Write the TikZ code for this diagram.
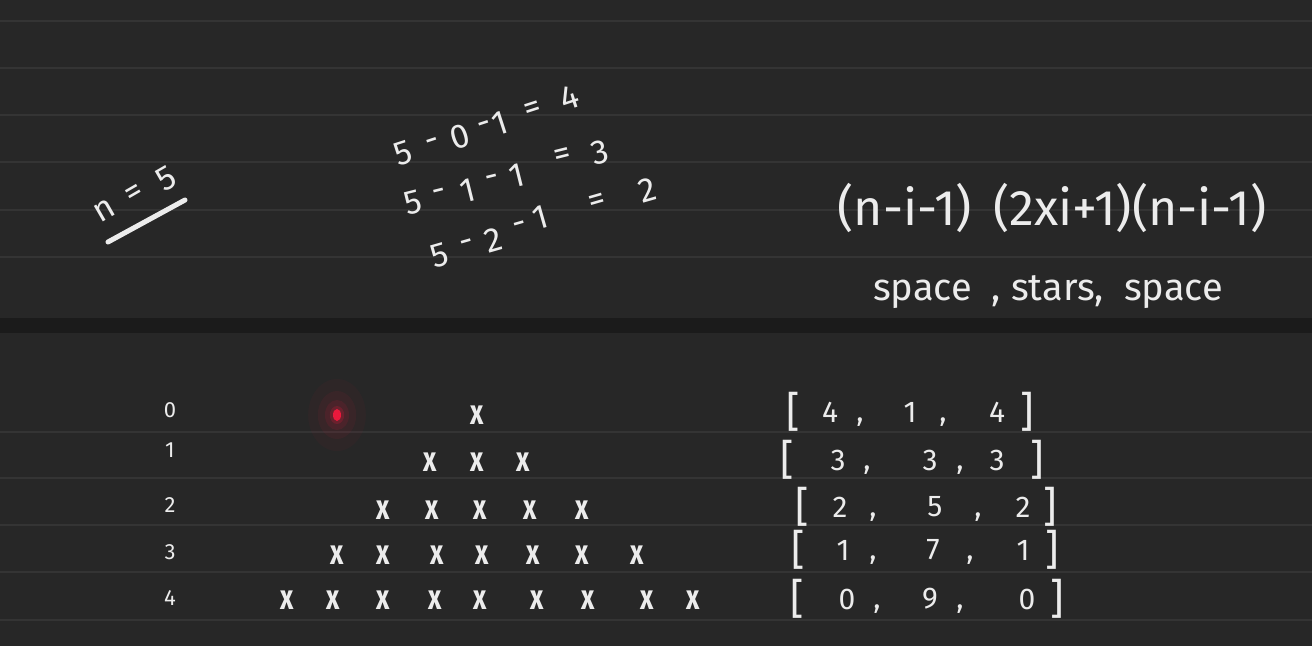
\documentclass[tikz,border=0pt]{standalone}
\usepackage{fontspec}
\usetikzlibrary{shapes.geometric}
\setmainfont{Fira Sans}
\definecolor{bg}{RGB}{39,39,39}
\definecolor{rulecol}{RGB}{52,52,52}
\definecolor{band}{RGB}{27,27,27}
\definecolor{chalk}{RGB}{236,236,236}
\definecolor{laser}{RGB}{235,25,60}
\begin{document}
\begin{tikzpicture}[x=1pt,y=-1pt,
  hand/.style={text=chalk, inner sep=0pt, anchor=center},
  eqn/.style={hand, font=\fontsize{34}{36}\selectfont},
  big/.style={hand, font=\fontsize{50}{54}\selectfont},
  lbl/.style={hand, font=\fontsize{22}{24}\selectfont},
  num/.style={hand, font=\fontsize{30}{32}\selectfont},
  brk/.style={hand, font=\fontsize{42}{44}\selectfont},
  xmark/.style={hand, font=\fontsize{26}{26}\selectfont\bfseries, yscale=1.35},
]
\useasboundingbox (0,0) rectangle (1312,646);
\fill[bg] (0,0) rectangle (1312,646);
\foreach \y in {21,68,115,162,210,257,432,478,525,572,620}
  \draw[rulecol, line width=2pt] (0,\y) -- (1312,\y);
\fill[band] (0,318) rectangle (1312,333);

% n = 5
\foreach \t/\x/\y [count=\k] in {n/105/211,=/135/194,5/166/179}
  \node[hand, font=\fontsize{34}{36}\selectfont, rotate=30] (n\k) at (\x,\y) {\t};
\coordinate (u1) at (108,242);
\coordinate (u2) at (185,200);
\draw[chalk, line width=5pt, line cap=round] (u1) -- (u2);

% equations, one glyph at a time along the slanted writing
\foreach \t/\x/\y [count=\k] in {5/403/153,-/433/145,0/460/137,-/485/128,1/500/123,=/533/110,4/570/98}
  \node[eqn, rotate=18] (ea\k) at (\x,\y) {\t};
\foreach \t/\x/\y [count=\k] in {5/413/203,-/440/195,1/468/191,-/493/181,1/517/176,=/563/157,3/600/152}
  \node[eqn, rotate=14] (eb\k) at (\x,\y) {\t};
\foreach \t/\x/\y [count=\k] in {5/440/255,-/467/246,2/493/240,-/520/228,1/540/218,=/597/203,2/647/190}
  \node[eqn, rotate=16] (ec\k) at (\x,\y) {\t};

% formula
\node[big] (f1) at (1052,208) {(n-i-1)\, (2xi+1)(n-i-1)};
\node[hand, font=\fontsize{38}{40}\selectfont] (f2) at (1048,292) {space\ \ ,\ stars,\ \ space};

% row labels
\foreach \i/\y in {0/410,1/450,2/505,3/552,4/598}
  \node[lbl] (r\i) at (170,\y) {\i};

% laser pointer
\foreach \r/\o in {36/0.04,24/0.06,15/0.1,9/0.2}
  \fill[laser, opacity=\o] (337,415) ellipse ({\r*0.8} and \r);
\node[fill=laser, ellipse, inner sep=0pt, minimum width=8pt, minimum height=12pt] (dot) at (337,415) {};

% stars
\foreach \x [count=\c] in {477} \node[xmark] (s0-\c) at (\x,415) {x};
\foreach \x [count=\c] in {430,477,523} \node[xmark] (s1-\c) at (\x,462) {x};
\foreach \x [count=\c] in {383,432,480,530,582} \node[xmark] (s2-\c) at (\x,510) {x};
\foreach \x [count=\c] in {337,383,437,482,533,582,637} \node[xmark] (s3-\c) at (\x,555) {x};
\foreach \x [count=\c] in {287,333,383,435,480,537,588,647,693} \node[xmark] (s4-\c) at (\x,600) {x};

% arrays
\foreach \row/\y/\lb/\a/\ca/\b/\cb/\c/\rb/\va/\vb/\vc in {
   0/412/793/830/860/910/943/997/1027/4/1/4,
   1/460/787/838/867/930/960/997/1037/3/3/3,
   2/507/802/840/873/935/978/1023/1050/2/5/2,
   3/550/798/843/873/933/970/1023/1052/1/7/1,
   4/599/797/847/877/930/960/1027/1057/0/9/0}{
  \node[brk] (lb\row) at (\lb,\y) {[};
  \node[num] (a\row) at (\a,\y) {\va};
  \node[num] (ca\row) at (\ca,\y+10) {,};
  \node[num] (b\row) at (\b,\y) {\vb};
  \node[num] (cb\row) at (\cb,\y+10) {,};
  \node[num] (c\row) at (\c,\y) {\vc};
  \node[brk] (rb\row) at (\rb,\y) {]};
}
\end{tikzpicture}
\end{document}
